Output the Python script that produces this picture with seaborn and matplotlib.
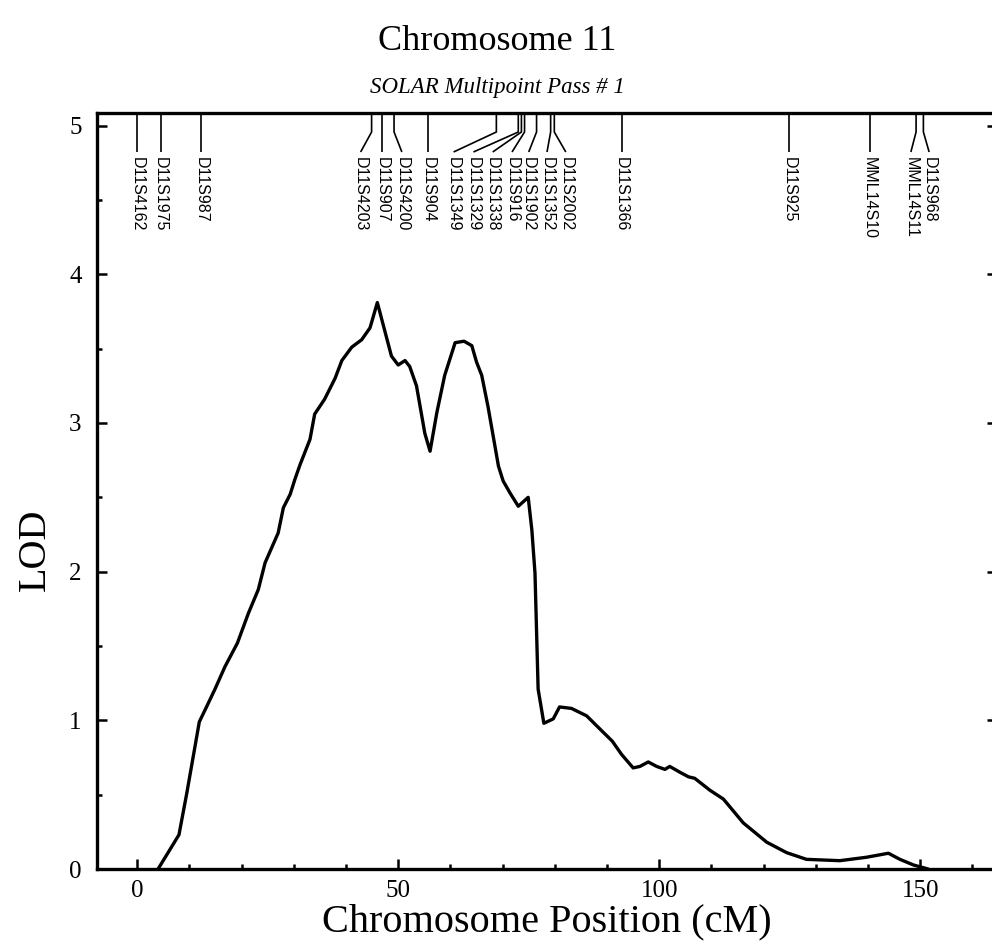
import numpy as np
import pandas as pd
import matplotlib
matplotlib.use("Agg")
import matplotlib.pyplot as plt
import seaborn as sns
from matplotlib.ticker import MultipleLocator, FixedLocator
from matplotlib.transforms import blended_transform_factory

# ---------------- data ----------------
position_cm = [4.0, 8.0, 9.5, 11.9, 13.0, 14.9, 16.8, 19.2, 21.3, 23.2, 24.5, 27.0,
               28.0, 29.3, 30.2, 31.2, 33.1, 34.0, 35.9, 37.9, 39.2, 41.1, 43.0,
               44.6, 46.0, 48.7, 50.0, 51.3, 52.2, 53.5, 55.1, 56.1, 57.4, 58.9,
               60.9, 62.6, 64.1, 65.0, 66.0, 67.2, 69.2, 70.1, 71.4, 73.0, 74.9,
               75.6, 76.2, 76.8, 77.9, 79.7, 80.9, 83.2, 86.1, 88.4, 91.0, 92.8,
               95.0, 96.3, 97.9, 99.5, 101.1, 102.0, 104.0, 105.6, 106.8, 109.7,
               112.3, 116.1, 120.6, 124.4, 128.2, 134.6, 139.7, 143.9, 146.1,
               148.7, 151.5]
lod = [0.0, 0.23, 0.51, 0.99, 1.07, 1.21, 1.36, 1.52, 1.72, 1.88, 2.06, 2.26,
       2.43, 2.52, 2.62, 2.72, 2.89, 3.06, 3.16, 3.30, 3.42, 3.51, 3.56,
       3.64, 3.81, 3.45, 3.39, 3.42, 3.38, 3.25, 2.93, 2.81, 3.07, 3.32,
       3.54, 3.55, 3.52, 3.41, 3.32, 3.11, 2.71, 2.61, 2.53, 2.44, 2.50,
       2.28, 1.99, 1.21, 0.98, 1.01, 1.09, 1.08, 1.03, 0.95, 0.86, 0.77,
       0.68, 0.69, 0.72, 0.69, 0.67, 0.69, 0.65, 0.62, 0.61, 0.53,
       0.47, 0.31, 0.18, 0.11, 0.065, 0.056, 0.079, 0.106, 0.065,
       0.027, 0.0]

marker_names = ["D11S4162", "D11S1975", "D11S987", "D11S4203", "D11S907",
                "D11S4200", "D11S904", "D11S1349", "D11S1329", "D11S1338",
                "D11S916", "D11S1902", "D11S1352", "D11S2002", "D11S1366",
                "D11S925", "MML14S10", "MML14S11", "D11S968"]
marker_cm = [0.0, 4.5, 12.3, 44.9, 46.9, 49.2, 55.7, 68.8, 73.0, 73.6, 74.2,
             76.5, 79.2, 79.9, 92.8, 124.9, 140.3, 149.2, 150.6]
label_cm = [0.0, 4.5, 12.3, 42.8, 46.9, 50.7, 55.7, 60.6, 64.4, 68.1, 71.8,
            75.0, 78.5, 82.1, 92.8, 124.9, 140.3, 148.2, 151.7]

x_major = [0, 50, 100, 150]
x_labels = ["0", "50", "100", "150"]
y_major = [0, 1, 2, 3, 4, 5]
y_labels = ["0", "1", "2", "3", "4", "5"]

title = "Chromosome 11"
subtitle = "SOLAR Multipoint Pass # 1"
x_title = "Chromosome Position (cM)"
y_title = "LOD"

# ---------------- plot ----------------
sns.set_theme(style="ticks")
plt.rcParams["font.family"] = ["Liberation Serif", "DejaVu Serif"]

W, H = 992, 948
fig = plt.figure(figsize=(W / 100, H / 100), dpi=100)
fig.patch.set_facecolor("white")
ax = fig.add_axes([97 / W, (H - 869) / H, (997 - 97) / W, (869 - 113) / H])
ax.set_facecolor("white")

df = pd.DataFrame({"cM": position_cm, "LOD": lod})
sns.lineplot(data=df, x="cM", y="LOD", color="black", linewidth=2.4,
             ax=ax, sort=False, estimator=None)

ax.set_xlim(-7.7, 164.7)
ax.set_ylim(0, 5.085)

ax.xaxis.set_major_locator(FixedLocator(x_major))
ax.set_xticklabels(x_labels)
ax.xaxis.set_minor_locator(MultipleLocator(10))
ax.yaxis.set_major_locator(FixedLocator(y_major))
ax.set_yticklabels(y_labels)
ax.yaxis.set_minor_locator(MultipleLocator(0.5))

ax.tick_params(which="both", direction="in", top=False, right=True,
               color="black", width=1.8)
ax.tick_params(which="major", length=7.5, labelsize=18, labelcolor="black")
ax.tick_params(which="minor", length=3.8)
ax.tick_params(axis="x", which="major", pad=8)
ax.tick_params(axis="y", which="major", pad=11)

for s in ax.spines.values():
    s.set_linewidth(2.4)
    s.set_color("black")

ax.set_xlabel(x_title, fontsize=29, color="black")
ax.xaxis.set_label_coords(0.5, (869 - 922) / 756)
ax.xaxis.label.set_va("center")
ax.set_ylabel(y_title, fontsize=29, color="black")
ax.yaxis.set_label_coords((35 - 97) / 900, (869 - 550) / 756)
ax.yaxis.label.set_va("center")

fig.text(0.501, 1 - 42 / H, title, ha="center", va="center", fontsize=26,
         color="black")
fig.text(0.501, 1 - 88 / H, subtitle, ha="center", va="center", fontsize=16.5,
         style="italic", color="black")

# marker annotations along the top
trans = blended_transform_factory(ax.transData, ax.transAxes)
ah = 756.0
y_top = 1.0
y_elbow = 1.0 - 19 / ah
y_end = 1.0 - 39 / ah
y_text = 1.0 - 44 / ah
for name, m, l in zip(marker_names, marker_cm, label_cm):
    ax.plot([m, m, l], [y_top, y_elbow, y_end], color="black", linewidth=1.2,
            transform=trans, clip_on=False, solid_capstyle="butt")
    ax.text(l, y_text, name, transform=trans, rotation=270, ha="center",
            va="top", fontsize=11.5, family=["Liberation Sans", "DejaVu Sans"],
            color="black")

fig.savefig("out.png", dpi=100, facecolor="white")
